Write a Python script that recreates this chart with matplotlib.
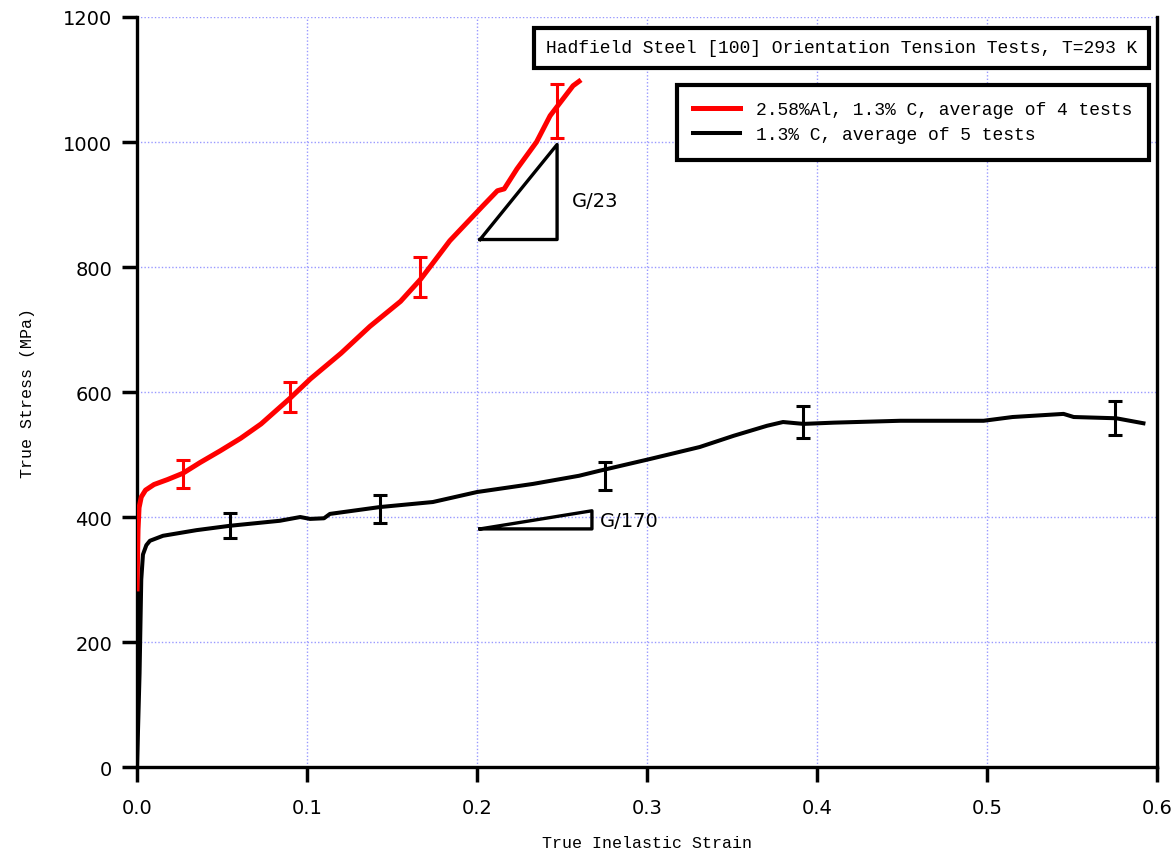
import matplotlib
matplotlib.use("Agg")
import matplotlib.pyplot as plt
import numpy as np

plt.rcParams["font.family"] = ["Liberation Mono", "DejaVu Sans Mono"]

# red: 2.58%Al, 1.3% C
al_strain = [0, 0.0006, 0.0012, 0.0025, 0.005, 0.01, 0.018, 0.027, 0.037, 0.049,
             0.061, 0.073, 0.09, 0.102, 0.12, 0.137, 0.155, 0.167, 0.184, 0.2035,
             0.212, 0.216, 0.2235, 0.235, 0.243, 0.2565, 0.26]
al_stress = [285, 380, 415, 432, 443, 452, 460, 470, 487, 506,
             526, 549, 590, 621, 662, 705, 745, 781, 842, 898,
             922, 925, 957, 1000, 1042, 1090, 1097]
al_err_x = [0.027, 0.09, 0.1665, 0.247]
al_err_y = [469, 592, 784, 1050]
al_err = [23, 24, 32, 43]

# black: 1.3% C
c_strain = [0, 0.0015, 0.0025, 0.0035, 0.0055, 0.0076, 0.0153, 0.035, 0.0547, 0.084,
            0.096, 0.1018, 0.11, 0.1135, 0.143, 0.174, 0.2, 0.233, 0.26, 0.272,
            0.302, 0.331, 0.351, 0.3706, 0.38, 0.392, 0.41, 0.449, 0.498, 0.515,
            0.545, 0.551, 0.576, 0.592]
c_stress = [0, 150, 300, 340, 355, 362, 370, 379, 386, 394,
            400, 397, 398, 405, 416, 424, 440, 453, 466, 474,
            493, 512, 530, 546, 552, 549, 551, 554, 554, 560,
            565, 560, 558, 550]
c_err_x = [0.0547, 0.143, 0.275, 0.392, 0.575]
c_err_y = [386, 413, 466, 552, 558]
c_err = [20, 22, 22, 26, 27]

# slope triangles
tri23_x = [0.2018, 0.2471, 0.2471, 0.2018]
tri23_y = [844, 844, 996, 844]
tri170_x = [0.2018, 0.2676, 0.2676, 0.2018]
tri170_y = [381, 381, 410, 381]

fig = plt.figure(figsize=(11.75, 8.53), dpi=100)
ax = fig.add_axes([0.1166, 0.0996, 0.8681, 0.8793])

ax.grid(True, color="#9999ff", linestyle=(0, (1, 1.5)), linewidth=1)
ax.set_axisbelow(True)

l_c, = ax.plot(c_strain, c_stress, color="black", lw=2.9, zorder=3,
               label="1.3% C, average of 5 tests")
ax.errorbar(c_err_x, c_err_y, yerr=c_err, fmt="none", ecolor="black",
            elinewidth=2.2, capsize=5, capthick=2.2, zorder=3)
l_al, = ax.plot(al_strain, al_stress, color="red", lw=3.6, zorder=4,
                label="2.58%Al, 1.3% C, average of 4 tests")
ax.errorbar(al_err_x, al_err_y, yerr=al_err, fmt="none", ecolor="red",
            elinewidth=2.2, capsize=5, capthick=2.2, zorder=4)

ax.plot(tri23_x, tri23_y, color="black", lw=2.4, zorder=3)
ax.plot(tri170_x, tri170_y, color="black", lw=2.4, zorder=3)
ax.text(0.256, 907, "G/23", fontsize=14, va="center", family="DejaVu Sans")
ax.text(0.272, 395, "G/170", fontsize=14, va="center", family="DejaVu Sans")

ax.set_xlim(0, 0.6)
ax.set_ylim(0, 1200)
ax.set_xticks(np.arange(0, 0.61, 0.1))
ax.set_xticklabels(["0.0", "0.1", "0.2", "0.3", "0.4", "0.5", "0.6"])
ax.set_yticks(np.arange(0, 1201, 200))
ax.tick_params(direction="out", length=11, width=2.5, labelsize=14)
ax.tick_params(axis="y", pad=7)
ax.tick_params(axis="x", pad=11)
for lab in ax.get_xticklabels() + ax.get_yticklabels():
    lab.set_family("DejaVu Sans")
ax.spines["top"].set_visible(False)
for s in ["left", "bottom", "right"]:
    ax.spines[s].set_linewidth(2.4)

ax.set_xlabel("True Inelastic Strain", fontsize=12, labelpad=13)
ax.set_ylabel("True Stress (MPa)", fontsize=12, labelpad=20)

ax.text(0.6907, 0.9587, "Hadfield Steel [100] Orientation Tension Tests, T=293 K",
        transform=ax.transAxes, ha="center", va="center", fontsize=13,
        bbox=dict(boxstyle="square,pad=0.65", fc="white", ec="black", lw=3))

leg = ax.legend(handles=[l_al, l_c], loc="upper right", bbox_to_anchor=(0.992, 0.9093),
                borderaxespad=0, fontsize=13, fancybox=False, framealpha=1,
                edgecolor="black", handlelength=2.6, handletextpad=0.9,
                borderpad=0.9, labelspacing=0.45)
leg.get_frame().set_linewidth(3)

fig.savefig("out.png", dpi=100)
